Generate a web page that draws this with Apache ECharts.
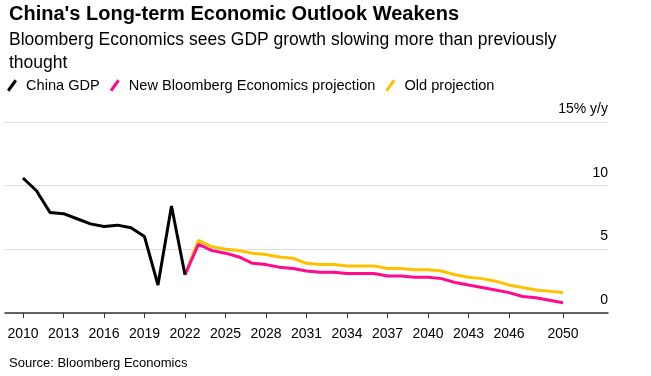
<!DOCTYPE html>
<html lang="en">
<head>
<meta charset="UTF-8">
<title>China's Long-term Economic Outlook Weakens</title>
<style>
    html, body { margin: 0; padding: 0; background: #fff; }
    #chart { width: 651px; height: 376px; }
</style>
</head>
<body>
<div id="chart"></div>
<script src="https://cdn.jsdelivr.net/npm/echarts@6/dist/echarts.min.js"></script>
<script>
    // data
    var gdpYears = [2010, 2011, 2012, 2013, 2014, 2015, 2016, 2017, 2018, 2019, 2020, 2021, 2022];
    var chinaGdp = [10.6, 9.6, 7.9, 7.8, 7.4, 7.0, 6.8, 6.9, 6.7, 6.0, 2.2, 8.4, 3.0];

    var projYears = [2022, 2023, 2024, 2025, 2026, 2027, 2028, 2029, 2030, 2031, 2032, 2033, 2034, 2035, 2036,
        2037, 2038, 2039, 2040, 2041, 2042, 2043, 2044, 2045, 2046, 2047, 2048, 2049, 2050];
    var newProjection = [3.0, 5.4, 4.9, 4.7, 4.4, 3.9, 3.8, 3.6, 3.5, 3.3, 3.2, 3.2, 3.1, 3.1, 3.1,
        2.9, 2.9, 2.8, 2.8, 2.7, 2.4, 2.2, 2.0, 1.8, 1.6, 1.3, 1.2, 1.0, 0.8];
    var oldProjection = [3.0, 5.7, 5.2, 5.0, 4.9, 4.7, 4.6, 4.4, 4.3, 3.9, 3.8, 3.8, 3.7, 3.7, 3.7,
        3.5, 3.5, 3.4, 3.4, 3.3, 3.0, 2.8, 2.7, 2.5, 2.2, 2.0, 1.8, 1.7, 1.6];

    var xTicks = [2010, 2013, 2016, 2019, 2022, 2025, 2028, 2031, 2034, 2037, 2040, 2043, 2046, 2050];

    function pairs(xs, ys) {
        return xs.map(function (x, i) { return [x, ys[i]]; });
    }

    var FONT = '"Liberation Sans", Arial, Helvetica, sans-serif';
    // short slanted stroke used as legend marker
    var slash = 'path://M0,11 L8,0 L10.5,2 L2.5,13 Z';

    var myChart = echarts.init(document.getElementById('chart'));

    var option = {
        animation: false,
        textStyle: { fontFamily: FONT },
        title: [{
            text: "China's Long-term Economic Outlook Weakens",
            left: 4,
            top: -1,
            textStyle: { fontSize: 20, fontWeight: 'bold', color: '#000', fontFamily: FONT }
        }, {
            text: 'Bloomberg Economics sees GDP growth slowing more than previously\nthought',
            left: 4,
            top: 24,
            textStyle: { fontSize: 17.5, fontWeight: 'normal', color: '#000', lineHeight: 23, fontFamily: FONT }
        }, {
            text: 'Source: Bloomberg Economics',
            left: 4,
            top: 352,
            textStyle: { fontSize: 13, fontWeight: 'normal', color: '#000', fontFamily: FONT }
        }],
        legend: {
            left: 2,
            top: 73,
            itemWidth: 10,
            itemHeight: 13,
            itemGap: 10,
            textStyle: { fontSize: 14.6, color: '#000', padding: [0, 0, 0, 4], fontFamily: FONT },
            data: [
                { name: 'China GDP', icon: slash },
                { name: 'New Bloomberg Economics projection', icon: slash },
                { name: 'Old projection', icon: slash }
            ]
        },
        grid: {
            left: 5,
            right: 43,
            top: 122,
            bottom: 63,
            containLabel: false
        },
        xAxis: {
            type: 'value',
            min: 2008.67,
            max: 2053.33,
            splitLine: { show: false },
            axisLine: { show: true, lineStyle: { color: '#333', width: 1.5 } },
            axisTick: {
                show: true,
                length: 5,
                customValues: xTicks,
                lineStyle: { color: '#333', width: 1 }
            },
            axisLabel: {
                customValues: xTicks,
                margin: 14,
                fontSize: 14,
                color: '#000',
                formatter: function (v) { return String(v); }
            }
        },
        yAxis: {
            type: 'value',
            position: 'right',
            min: 0,
            max: 15,
            interval: 5,
            axisLine: { show: false },
            axisTick: { show: false },
            splitLine: { show: true, lineStyle: { color: '#dcdcdc', width: 1 } },
            axisLabel: {
                inside: true,
                margin: 0,
                fontSize: 14,
                color: '#000',
                verticalAlign: 'bottom',
                padding: [0, 0, 6, 0],
                formatter: function (v) { return v === 15 ? '15% y/y' : String(v); }
            }
        },
        series: [{
            name: 'Old projection',
            type: 'line',
            data: pairs(projYears, oldProjection),
            symbol: 'none',
            color: '#ffc000',
            lineStyle: { width: 3, color: '#ffc000' },
            z: 2
        }, {
            name: 'New Bloomberg Economics projection',
            type: 'line',
            data: pairs(projYears, newProjection),
            symbol: 'none',
            color: '#ff0a8c',
            lineStyle: { width: 3, color: '#ff0a8c' },
            z: 3
        }, {
            name: 'China GDP',
            type: 'line',
            data: pairs(gdpYears, chinaGdp),
            symbol: 'none',
            color: '#000',
            lineStyle: { width: 3, color: '#000' },
            z: 4
        }]
    };

    myChart.setOption(option);
</script>
</body>
</html>
